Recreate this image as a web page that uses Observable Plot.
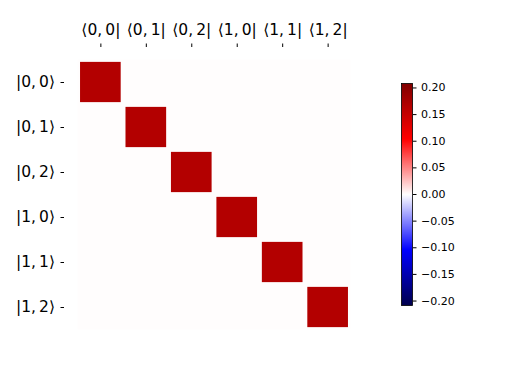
<!DOCTYPE html>
<html>
<head>
<meta charset="utf-8">
<script src="https://cdn.jsdelivr.net/npm/d3@7"></script>
<script src="https://cdn.jsdelivr.net/npm/@observablehq/plot@0.6"></script>
<style>
  html, body { margin: 0; padding: 0; background: #fff; }
  #wrap { position: relative; width: 512px; height: 384px; }
  #wrap > svg { position: absolute; top: 0; }
</style>
</head>
<body>
<div id="wrap"></div>
<script>
// ---- data ----
const braLabels = ["\u27E80,\u20090|", "\u27E80,\u20091|", "\u27E80,\u20092|", "\u27E81,\u20090|", "\u27E81,\u20091|", "\u27E81,\u20092|"];
const ketLabels = ["|0,\u20090\u27E9", "|0,\u20091\u27E9", "|0,\u20092\u27E9", "|1,\u20090\u27E9", "|1,\u20091\u27E9", "|1,\u20092\u27E9"];
const row0 = [0.1667, 0, 0, 0, 0, 0];
const row1 = [0, 0.1667, 0, 0, 0, 0];
const row2 = [0, 0, 0.1667, 0, 0, 0];
const row3 = [0, 0, 0, 0.1667, 0, 0];
const row4 = [0, 0, 0, 0, 0.1667, 0];
const row5 = [0, 0, 0, 0, 0, 0.1667];
const colorbarTicks = [-0.20, -0.15, -0.10, -0.05, 0.00, 0.05, 0.10, 0.15, 0.20];

// ---- derived ----
const rows = [row0, row1, row2, row3, row4, row5];
const cells = [];
rows.forEach((r, i) => r.forEach((v, j) => cells.push({i, j, v})));
const W = 1.25 * d3.max(rows, (r, i) => Math.abs(r[i]));
const blobs = cells.filter(d => d.v !== 0).map(d => {
  const hs = Math.sqrt(Math.min(1, Math.abs(d.v) / W)) / 2;
  return {...d, hs};
});
const seismicStops = ["#00004d", "#0000ff", "#ffffff", "#ff0000", "#800000"];
const colorScale = {type: "linear", domain: [-W, -W / 2, 0, W / 2, W], range: seismicStops, interpolate: "rgb"};
const idx = d3.range(rows.length);

const main = Plot.plot({
  width: 512, height: 384,
  marginLeft: 64, marginRight: 148, marginTop: 46, marginBottom: 41,
  style: {fontFamily: "DejaVu Sans", fontSize: "15.5px", background: "transparent"},
  x: {domain: [-0.8, 5.8]},
  y: {domain: [-0.8, 5.8], reverse: true},
  color: colorScale,
  marks: [
    Plot.rect([{}], {x1: -0.5, x2: 5.5, y1: -0.5, y2: 5.5, fill: "#fffdfd"}),
    Plot.rect(blobs, {x1: d => d.j - d.hs, x2: d => d.j + d.hs, y1: d => d.i - d.hs, y2: d => d.i + d.hs, fill: "v"}),
    Plot.axisX({anchor: "top", ticks: idx, tickFormat: i => braLabels[i], tickSize: 3.5, tickPadding: 8, label: null}),
    Plot.axisY({anchor: "left", ticks: idx, tickFormat: i => ketLabels[i], tickSize: 3.5, tickPadding: 6, label: null})
  ]
});
main.style.left = "0px";

const cbar = Plot.plot({
  width: 100, height: 384,
  marginLeft: 21, marginRight: 68, marginTop: 83, marginBottom: 79,
  style: {fontFamily: "DejaVu Sans", fontSize: "11px", background: "transparent"},
  x: {domain: [0, 1], axis: null},
  y: {domain: [-W, W]},
  color: colorScale,
  marks: [
    Plot.raster({x1: 0, x2: 1, y1: -W, y2: W, width: 1, height: 256, fill: (x, y) => y, interpolate: null}),
    Plot.frame({stroke: "black", strokeWidth: 0.8}),
    Plot.axisY({anchor: "right", ticks: colorbarTicks, tickFormat: d3.format(".2f"), tickSize: 3.5, tickPadding: 5, label: null})
  ]
});
cbar.style.left = "380px";

document.getElementById("wrap").append(main, cbar);
</script>
</body>
</html>
